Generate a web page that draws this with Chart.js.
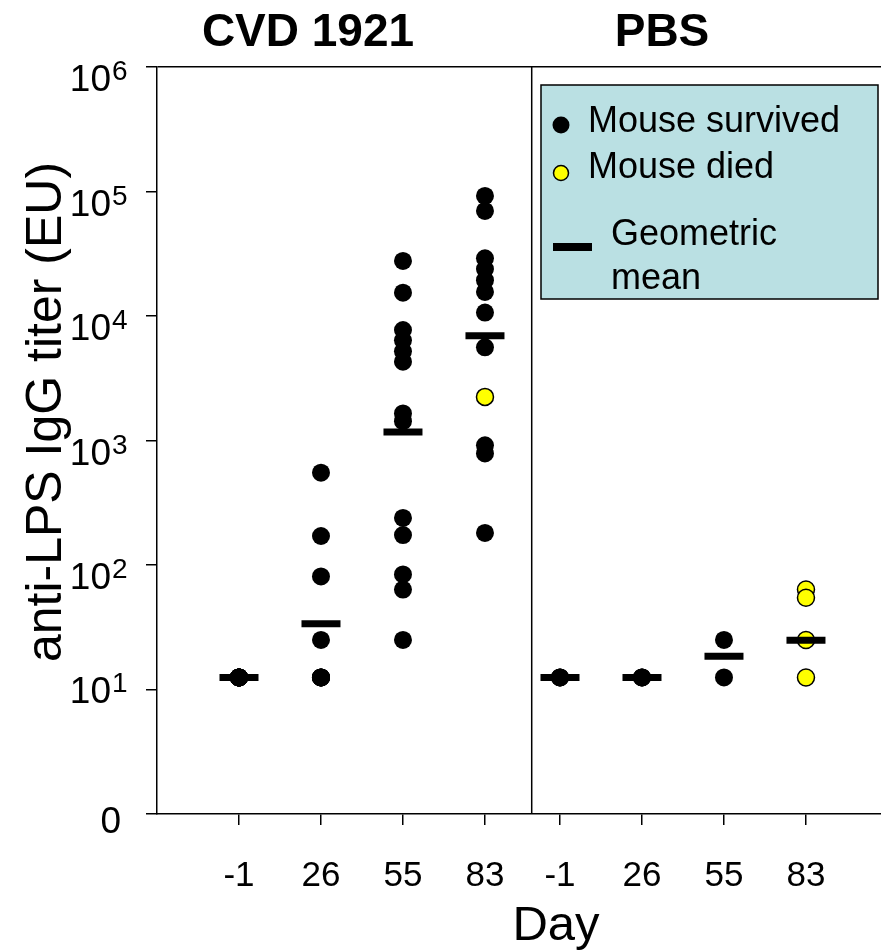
<!DOCTYPE html>
<html>
<head>
<meta charset="utf-8">
<script src="https://cdn.jsdelivr.net/npm/chart.js@4.4.1/dist/chart.umd.min.js"></script>
<style>
  body { margin: 0; background: #fff; }
  canvas { display: block; }
</style>
</head>
<body>
<canvas id="myChart" width="881" height="952"></canvas>
<script>
const FONT = "'Liberation Sans', Arial, sans-serif";

const days = ["-1", "26", "55", "83"];
const groupNames = ["CVD 1921", "PBS"];
const yExponents = [0, 1, 2, 3, 4, 5, 6];

// titers (EU), one list per day
const cvdSurvived = [
    [12.5, 12.5, 12.5, 12.5, 12.5, 12.5, 12.5, 12.5, 12.5, 12.5, 12.5, 12.5, 12.5, 12.5],
    [551, 171, 81, 25, 12.5, 12.5, 12.5, 12.5, 12.5],
    [27700, 15400, 7720, 6380, 5200, 4300, 1650, 1430, 239, 174, 84, 63.5, 25],
    [92200, 69800, 29100, 23800, 19400, 15600, 10650, 5600, 914, 787, 181]
];
const cvdDied = [[], [], [], [2240]];
const cvdMean = [12.5, 33.7, 1170, 6950];

const pbsSurvived = [[12.5, 12.5, 12.5], [12.5, 12.5, 12.5], [25, 12.5], []];
const pbsDied = [[], [], [], [63.5, 54.5, 25, 12.5]];
const pbsMean = [12.5, 12.5, 18.5, 24.9];

const GROUP_SHIFT = 3.915;   // second panel starts a bit closer
const DIVIDER = 4.57;
const X_MAX = 8.83;

function slot(group, dayIdx) {
    return 1 + dayIdx + group * GROUP_SHIFT;
}

function toPoints(group, lists) {
    const pts = [];
    lists.forEach((vals, i) => {
        vals.forEach(v => pts.push({ x: slot(group, i), y: Math.log10(v) }));
    });
    return pts;
}

function meanPoints(group, means) {
    return means.map((v, i) => ({ x: slot(group, i), y: Math.log10(v) }));
}

const survived = toPoints(0, cvdSurvived).concat(toPoints(1, pbsSurvived));
const died = toPoints(0, cvdDied).concat(toPoints(1, pbsDied));
const means = meanPoints(0, cvdMean).concat(meanPoints(1, pbsMean));

const xTicks = [];
groupNames.forEach((g, gi) => days.forEach((d, di) => xTicks.push(slot(gi, di))));

const decor = {
    id: "decor",
    beforeDatasetsDraw(chart) {
        const ctx = chart.ctx;
        const area = chart.chartArea;
        const xs = chart.scales.x;
        const px = xs.getPixelForValue(DIVIDER);
        ctx.save();
        ctx.strokeStyle = "#000";
        ctx.lineWidth = 1.5;
        ctx.beginPath();
        ctx.moveTo(px, area.top);
        ctx.lineTo(px, area.bottom);
        ctx.stroke();
        ctx.restore();
    },
    afterDraw(chart) {
        const ctx = chart.ctx;
        const ys = chart.scales.y;
        ctx.save();
        ctx.fillStyle = "#000";

        // panel titles
        ctx.font = "bold 46px " + FONT;
        ctx.textAlign = "center";
        ctx.textBaseline = "alphabetic";
        ctx.fillText(groupNames[0], 308, 46);
        ctx.fillText(groupNames[1], 662, 46);

        // y tick labels 0, 10^1 ... 10^6
        yExponents.forEach(e => {
            const ty = ys.getPixelForValue(e);
            if (e === 0) {
                ctx.font = "37px " + FONT;
                ctx.textAlign = "right";
                ctx.fillText("0", 121, ty + 19);
                return;
            }
            const base = ty + 13 + (e === 1 ? 0 : 11);
            ctx.font = "37px " + FONT;
            ctx.textAlign = "right";
            ctx.fillText("10", 111, base);
            ctx.font = "28px " + FONT;
            ctx.textAlign = "left";
            ctx.fillText(String(e), 112, base - 11);
        });

        // axis titles
        ctx.font = "49px " + FONT;
        ctx.textAlign = "center";
        ctx.fillText("Day", 556, 940);
        ctx.font = "50px " + FONT;
        ctx.save();
        ctx.translate(61, 412);
        ctx.rotate(-Math.PI / 2);
        ctx.fillText("anti-LPS IgG titer (EU)", 0, 0);
        ctx.restore();

        // legend box
        ctx.fillStyle = "#bae0e3";
        ctx.fillRect(541, 85, 337, 214);
        ctx.strokeStyle = "#000";
        ctx.lineWidth = 1.5;
        ctx.strokeRect(541, 85, 337, 214);

        ctx.fillStyle = "#000";
        ctx.beginPath();
        ctx.arc(561, 125, 8.5, 0, Math.PI * 2);
        ctx.fill();

        ctx.fillStyle = "#ffff00";
        ctx.beginPath();
        ctx.arc(561, 173, 7.5, 0, Math.PI * 2);
        ctx.fill();
        ctx.stroke();

        ctx.fillStyle = "#000";
        ctx.fillRect(553, 243, 39, 8);

        ctx.font = "36px " + FONT;
        ctx.textAlign = "left";
        ctx.fillText("Mouse survived", 588, 132);
        ctx.fillText("Mouse died", 588, 178);
        ctx.fillText("Geometric", 611, 245);
        ctx.fillText("mean", 611, 289);
        ctx.restore();
    }
};

const ctx = document.getElementById("myChart").getContext("2d");

window.myChart = new Chart(ctx, {
    type: "scatter",
    data: {
        datasets: [
            {
                label: "Geometric mean",
                data: means,
                pointStyle: "line",
                pointRadius: 19.5,
                borderColor: "#000",
                borderWidth: 7
            },
            {
                label: "Mouse died",
                data: died,
                pointRadius: 8.5,
                backgroundColor: "#ffff00",
                borderColor: "#000",
                borderWidth: 1.5
            },
            {
                label: "Mouse survived",
                data: survived,
                pointRadius: 9,
                backgroundColor: "#000",
                borderColor: "#000",
                borderWidth: 0
            }
        ]
    },
    options: {
        responsive: false,
        animation: false,
        layout: {
            autoPadding: false,
            padding: { top: 67, left: 0, right: 0, bottom: 0 }
        },
        plugins: {
            legend: { display: false },
            tooltip: { enabled: false }
        },
        scales: {
            x: {
                type: "linear",
                min: 0,
                max: X_MAX,
                afterBuildTicks: scale => {
                    scale.ticks = xTicks.map(v => ({ value: v }));
                },
                afterFit: scale => {
                    scale.height = 138;
                    scale.paddingLeft = 0;
                    scale.paddingRight = 0;
                },
                ticks: {
                    autoSkip: false,
                    maxRotation: 0,
                    padding: 30,
                    color: "#000",
                    font: { family: FONT, size: 35 },
                    callback: (value, index) => days[index % days.length]
                },
                grid: {
                    drawOnChartArea: false,
                    color: "#000",
                    lineWidth: 1.5,
                    tickLength: 11
                },
                border: { display: true, color: "#000", width: 1.5 }
            },
            y: {
                type: "linear",
                min: 0,
                max: 6,
                afterBuildTicks: scale => {
                    scale.ticks = yExponents.map(v => ({ value: v }));
                },
                afterFit: scale => {
                    scale.width = 157;
                    scale.paddingTop = 0;
                    scale.paddingBottom = 0;
                },
                ticks: { display: false },
                grid: {
                    drawOnChartArea: true,
                    color: c => (c.tick && c.tick.value === 6 ? "#000" : "rgba(0,0,0,0)"),
                    tickColor: "#000",
                    lineWidth: 1.5,
                    tickLength: 11
                },
                border: { display: true, color: "#000", width: 1.5 }
            }
        }
    },
    plugins: [decor]
});
</script>
</body>
</html>
